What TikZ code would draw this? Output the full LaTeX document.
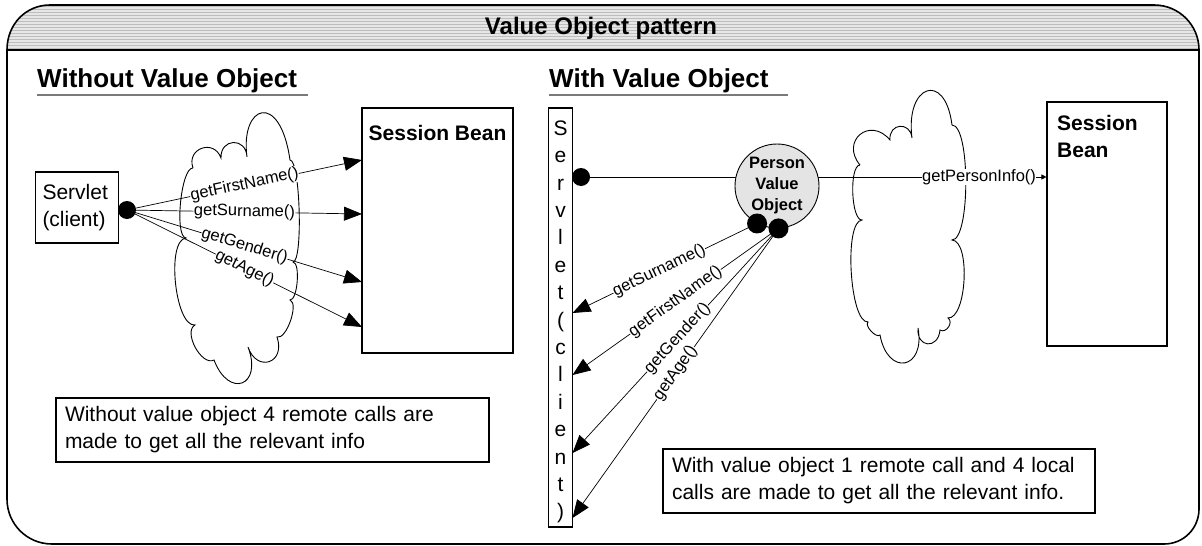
\documentclass[tikz,border=0pt]{standalone}
\usepackage{fontspec}
\setmainfont{Liberation Sans}
\usetikzlibrary{arrows.meta,calc,backgrounds}
\definecolor{hdrbg}{HTML}{E6E6E6}
\definecolor{hdrline}{HTML}{BDBDBD}
\definecolor{ulgray}{HTML}{7A7A7A}
\definecolor{pvofill}{HTML}{E4E4E4}
\begin{document}
\begin{tikzpicture}[x=1pt,y=-1pt,
  box/.style={draw=black, line width=1.1pt, inner sep=0pt},
  blob/.style={circle, fill=black, minimum size=18pt, inner sep=0pt},
  lbl/.style={font=\fontsize{16.5}{18}\selectfont, fill=white, inner sep=0.4pt},
  body/.style={font=\fontsize{21}{27}\selectfont},
  bigarrow/.style={-{Triangle[length=18pt,width=14pt]}, line width=0.7pt},
  conn/.style={line width=0.7pt},
  cloudline/.style={line width=0.9pt},
  lobe/.style n args={3}{insert path={.. controls ($#1!#3!90:#2$) and ($#2!#3!-90:#1$) .. #2}},
  sectitle/.style={font=\bfseries\fontsize{26}{26}\selectfont, anchor=base west, inner sep=0pt},
  uline/.style={draw=ulgray, line width=2.5pt},
]
\useasboundingbox (0,0) rectangle (1202,546);

% header band
\begin{scope}
\clip (7,50) .. controls (7,24) and (26,5) .. (50,5) -- (1154,5) .. controls (1179,5) and (1199,25) .. (1199,50) -- (1199,509) .. controls (1199,528) and (1184,544) .. (1164,544) -- (52,544) .. controls (27,544) and (7,524) .. (7,499) -- cycle;
\fill[hdrbg] (0,0) rectangle (1202,50);
\foreach \yy in {6,9,...,48} \draw[hdrline, line width=1pt] (0,\yy) -- (1202,\yy);
\end{scope}
\draw[line width=1.6pt] (7,50) -- (1199,50);
\draw[line width=1.6pt] (7,50) .. controls (7,24) and (26,5) .. (50,5) -- (1154,5) .. controls (1179,5) and (1199,25) .. (1199,50) -- (1199,509) .. controls (1199,528) and (1184,544) .. (1164,544) -- (52,544) .. controls (27,544) and (7,524) .. (7,499) -- cycle;

\node[font=\bfseries\fontsize{24}{24}\selectfont] (title) at (601,28) {Value Object pattern};

\node[sectitle] (secL) at (37,87) {Without Value Object};
\node[sectitle] (secR) at (549,87) {With Value Object};
\draw[uline] (37,95) -- (308,95);
\draw[uline] (549,95) -- (788,95);

% left side
\node[box, body, align=left, text width=69pt, inner xsep=7pt, minimum height=71pt] (servL) at (77,207.5) {Servlet\\(client)};
\node[blob] (sdL) at (127,210) {};
\node[box, minimum width=151pt, minimum height=245pt] (sbL) at (437.5,230.5) {};
\node[font=\bfseries\fontsize{21}{21}\selectfont, anchor=base] (sbLt) at (437.5,140) {Session Bean};
\coordinate (tL1) at (362,160);
\coordinate (tL2) at (362,214);
\coordinate (tL3) at (362,282);
\coordinate (tL4) at (362,327);
\node[box, body, align=left, text width=415pt, inner xsep=9pt, minimum height=64pt] (noteL) at (272.5,430) {Without value object 4 remote calls are\\made to get all the relevant info};

% right side
\node[box, minimum width=24pt, minimum height=419pt] (servR) at (560.5,317.5) {};
\node[align=center, inner sep=0pt, font=\fontsize{21}{27.4}\selectfont] (servRt) at (560.5,322) {S\\e\\r\\v\\l\\e\\t\\(\\c\\l\\i\\e\\n\\t\\)};
\node[blob] (sdR) at (581,177) {};
\node[circle, draw=black, line width=0.9pt, fill=pvofill, minimum size=84pt, inner sep=0pt, align=center, font=\bfseries\fontsize{16.5}{21}\selectfont] (pvo) at (777,186) {Person\\Value\\Object};
\node[blob, minimum size=20pt] (d1) at (pvo.-118) {};
\node[blob, minimum size=20pt] (d2) at (pvo.-88) {};
\node[box, minimum width=120pt, minimum height=244pt] (sbR) at (1107,224) {};
\node[font=\bfseries\fontsize{21}{27}\selectfont, align=left, anchor=north west, inner sep=0pt] (sbRt) at (1057,115) {Session\\Bean};
\coordinate (tR1) at (572.5,313);
\coordinate (tR2) at (572.5,375);
\coordinate (tR3) at (572.5,453);
\coordinate (tR4) at (572.5,518);
\node[box, body, align=left, text width=414pt, inner xsep=9pt, minimum height=64pt] (noteR) at (879,481) {With value object 1 remote call and 4 local\\calls are made to get all the relevant info.};

\begin{scope}[on background layer]
% clouds
\draw[cloudline] (193,168) [lobe={(193,168)}{(221,158)}{0.7}] [lobe={(221,158)}{(247,157)}{0.77}] .. controls (240,105) and (280,90) .. (290,160) [lobe={(290,160)}{(293,262)}{0.1}] [lobe={(293,262)}{(290,300)}{0.2}] [lobe={(290,300)}{(277,337)}{0.25}] [lobe={(277,337)}{(248,347)}{0.9}] [lobe={(248,347)}{(214,360)}{1.15}] [lobe={(214,360)}{(195,325)}{0.35}] [lobe={(195,325)}{(186,238)}{0.23}] [lobe={(186,238)}{(193,168)}{0.17}];
\draw[cloudline] (860,165) [lobe={(860,165)}{(890,140)}{0.8}] [lobe={(890,140)}{(912,138)}{0.77}] .. controls (905,85) and (945,70) .. (952,125) [lobe={(952,125)}{(952,240)}{0.16}] [lobe={(952,240)}{(948,318)}{0.24}] [lobe={(948,318)}{(940,330)}{0.5}] [lobe={(940,330)}{(918,328)}{0.9}] [lobe={(918,328)}{(880,335)}{1.1}] [lobe={(880,335)}{(868,322)}{0.3}] [lobe={(868,322)}{(862,220)}{0.18}] [lobe={(862,220)}{(860,165)}{0.2}];
% remote calls without value object
\draw[bigarrow] (sdL.center) -- node[lbl, sloped, pos=.5] (lL1) {getFirstName()} (tL1);
\draw[bigarrow] (sdL.center) -- node[lbl, sloped, pos=.5] (lL2) {getSurname()} (tL2);
\draw[bigarrow] (sdL.center) -- node[lbl, sloped, pos=.5] (lL3) {getGender()} (tL3);
\draw[bigarrow] (sdL.center) -- node[lbl, sloped, pos=.5] (lL4) {getAge()} (tL4);
% with value object
\draw[conn] (sdR.center) -- (sdR.center -| pvo.center);
\draw[conn, -{Triangle[length=5pt,width=5pt]}] (sdR.center -| pvo.center) -- node[lbl, pos=.75] (lP) {getPersonInfo()} (sdR.center -| sbR.west);
\draw[bigarrow] (d1.center) -- node[lbl, sloped, pos=.53] (lR1) {getSurname()} (tR1);
\draw[bigarrow] (d2.center) -- node[lbl, sloped, pos=.5] (lR2) {getFirstName()} (tR2);
\draw[bigarrow] (d2.center) -- node[lbl, sloped, pos=.49] (lR3) {getGender()} (tR3);
\draw[bigarrow] (d2.center) -- node[lbl, sloped, pos=.5] (lR4) {getAge()} (tR4);
\end{scope}
\end{tikzpicture}
\end{document}
